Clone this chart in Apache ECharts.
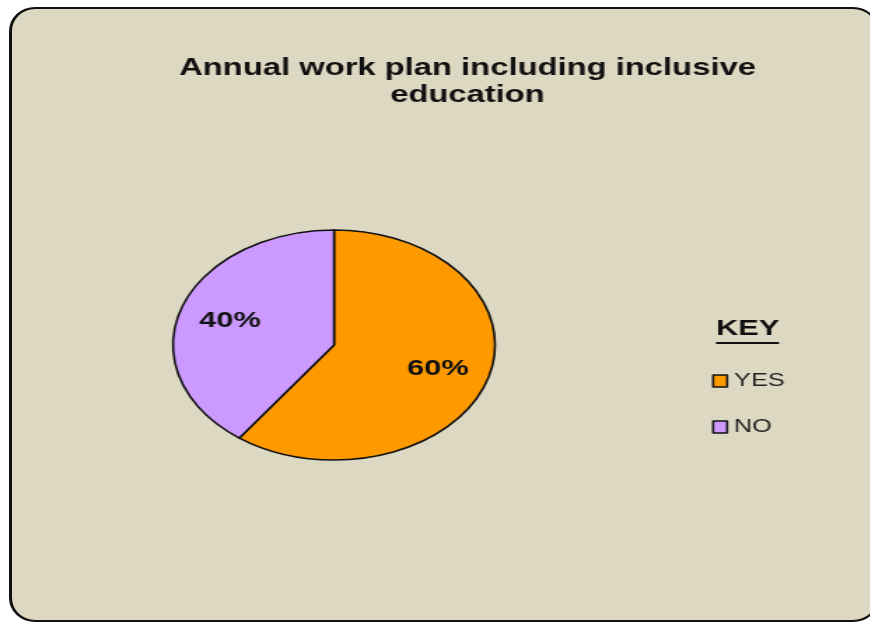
<!DOCTYPE html>
<html>
<head>
<meta charset="utf-8">
<script src="https://cdn.jsdelivr.net/npm/echarts@6/dist/echarts.min.js"></script>
<style>
  html, body { margin: 0; padding: 0; background: #ffffff; }
  #page { position: relative; width: 870px; height: 623px; overflow: hidden; background: #ffffff; }
  #frame {
    position: absolute; left: 9px; top: 7px; width: 870px; height: 615px;
    background: #ddd8c2; border: 2px solid #111; border-left-width: 3px;
    border-radius: 26px / 24px; box-sizing: border-box;
  }
  /* the chart is drawn on a narrower canvas and stretched sideways */
  #chart { position: absolute; left: 0; top: 0; width: 621.43px; height: 623px;
           transform: scaleX(1.4); transform-origin: 0 0; }
</style>
</head>
<body>
<div id="page">
  <div id="frame"></div>
  <div id="chart"></div>
</div>
<script>
// data
const categories = ['YES', 'NO'];
const values = [60, 40];
const colors = ['#ff9900', '#cc99ff'];
const chartTitle = 'Annual work plan including inclusive\neducation';
const keyTitle = 'KEY';

const SX = 1.4;                 // horizontal stretch of the canvas
const CX = 334 / SX, CY = 345;  // pie centre in canvas pixels
const R = 115;
const LABEL_PUSH = 1.29;        // move slice labels outward from the mid radius

const chart = echarts.init(document.getElementById('chart'), null, { renderer: 'canvas' });

chart.setOption({
  backgroundColor: 'transparent',
  animation: false,
  title: {
    text: chartTitle,
    left: 467.5 / SX,
    textAlign: 'center',
    top: 55,
    padding: 0,
    textStyle: {
      fontFamily: 'Liberation Sans, Arial, sans-serif',
      fontWeight: 'bold', fontSize: 23.4, lineHeight: 27, color: '#111'
    }
  },
  legend: {
    orient: 'vertical',
    left: 712 / SX,
    top: 371,
    padding: 0,
    itemWidth: 14 / SX,
    itemHeight: 12,
    itemGap: 26,
    icon: 'rect',
    data: categories,
    itemStyle: { borderColor: '#111', borderWidth: 1.6 },
    textStyle: {
      fontFamily: 'Liberation Sans, Arial, sans-serif',
      fontSize: 18, lineHeight: 20, color: '#222'
    }
  },
  graphic: [
    {
      type: 'text', left: 716 / SX, top: 318,
      style: {
        text: keyTitle, fill: '#111',
        font: 'bold 22px "Liberation Sans", Arial, sans-serif'
      }
    },
    {
      type: 'line',
      shape: { x1: 716 / SX, y1: 343, x2: 779 / SX, y2: 343 },
      style: { stroke: '#111', lineWidth: 2 }
    }
  ],
  series: [{
    type: 'pie',
    center: [CX, CY],
    radius: [0, R],
    startAngle: 90,
    clockwise: true,
    data: categories.map((name, i) => ({
      name, value: values[i], itemStyle: { color: colors[i] }
    })),
    itemStyle: { borderColor: '#111', borderWidth: 1.6 },
    emphasis: { disabled: true },
    label: {
      show: true,
      position: 'inside',
      formatter: p => p.value + '%',
      fontFamily: 'Liberation Sans, Arial, sans-serif',
      fontWeight: 'bold', fontSize: 22, color: '#111'
    },
    labelLine: { show: false },
    labelLayout: function (p) {
      const lx = p.labelRect.x + p.labelRect.width / 2;
      const ly = p.labelRect.y + p.labelRect.height / 2;
      return { dx: (lx - CX) * (LABEL_PUSH - 1), dy: (ly - CY) * (LABEL_PUSH - 1) };
    }
  }]
});
</script>
</body>
</html>
